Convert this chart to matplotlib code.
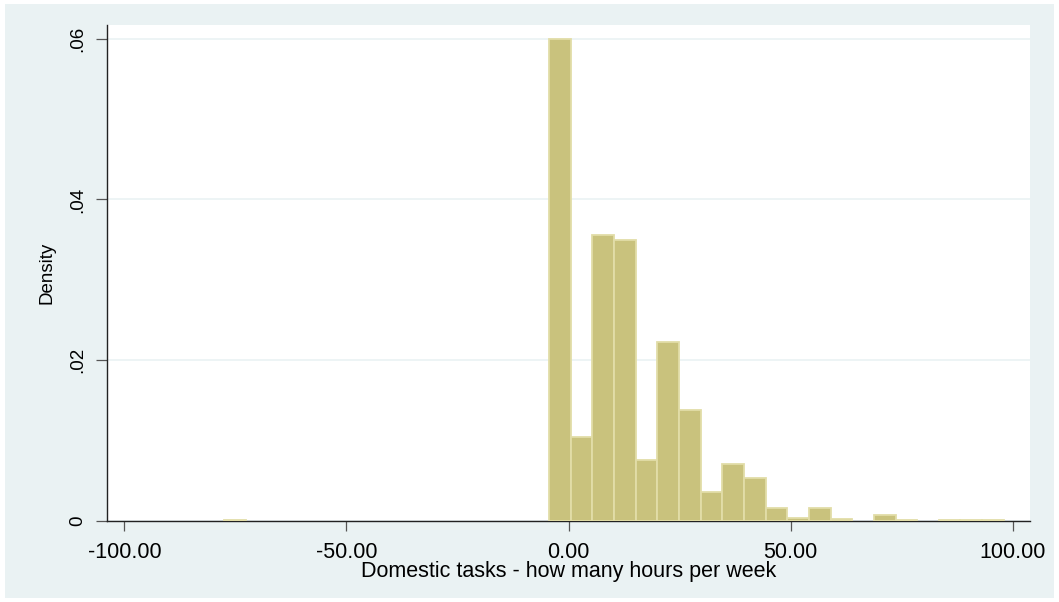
import matplotlib
matplotlib.use('Agg')
import matplotlib.pyplot as plt
from matplotlib.patches import Rectangle

# ---------- DATA ----------
BIN_START = -77.5
BIN_END = 98.0
N_BINS = 36
DENSITY = [
    0.0001, 0, 0, 0, 0, 0, 0, 0, 0, 0, 0, 0, 0, 0, 0,
    0.0599, 0.0105, 0.0356, 0.0350, 0.0076, 0.0223, 0.0138,
    0.00365, 0.00705, 0.0053, 0.0016, 0.0004, 0.0016, 0.0002,
    0, 0.0008, 0.00015, 0, 0.0001, 0.0001, 0.0001,
]
X_TICKS = [-100, -50, 0, 50, 100]
Y_TICKS = [0, 0.02, 0.04, 0.06]
Y_TICK_LABELS = ['0', '.02', '.04', '.06']
X_LABEL = 'Domestic tasks - how many hours per week'
Y_LABEL = 'Density'
# --------------------------

BG = '#EAF2F3'
BAR_FILL = '#C9C27D'
BAR_EDGE = '#E2DDA8'

plt.rcParams['font.family'] = ['Liberation Sans', 'DejaVu Sans']

fig = plt.figure(figsize=(10.59, 6.02), dpi=100, facecolor='white')
fig.patches.append(Rectangle((5 / 1059, 4 / 602), 1 - 10 / 1059, 1 - 8 / 602,
                             transform=fig.transFigure, facecolor=BG,
                             edgecolor='none', zorder=-10))
ax = fig.add_axes([107 / 1059, 1 - 521 / 602, (1030 - 107) / 1059, (521 - 25) / 602])
ax.set_facecolor('white')

width = (BIN_END - BIN_START) / N_BINS
lefts = [BIN_START + i * width for i in range(N_BINS)]
xs = [l for l, d in zip(lefts, DENSITY) if d > 0]
hs = [d for d in DENSITY if d > 0]
ax.bar(xs, hs, width=width, align='edge', color=BAR_FILL,
       edgecolor=BAR_EDGE, linewidth=1.3, zorder=3)

ax.set_xlim(-103.9, 103.9)
ax.set_ylim(0, 0.0617)

ax.set_yticks(Y_TICKS)
ax.set_yticklabels(Y_TICK_LABELS, rotation=90, va='center', fontsize=13.5)
ax.set_xticks(X_TICKS)
ax.set_xticklabels([f'{v:.2f}' for v in X_TICKS], fontsize=15.5)
ax.tick_params(axis='y', length=8, width=0.9, pad=7, color='#555555')
ax.tick_params(axis='x', length=7, width=0.9, pad=8, color='#555555')

ax.grid(axis='y', color=BG, linewidth=1.2, zorder=0)
ax.set_axisbelow(True)
for side in ['top', 'right']:
    ax.spines[side].set_visible(False)
for side in ['left', 'bottom']:
    ax.spines[side].set_linewidth(1.0)
    ax.spines[side].set_color('#222222')

ax.set_xlabel(X_LABEL, fontsize=15.5, labelpad=-1)
ax.set_ylabel(Y_LABEL, fontsize=13.5, labelpad=10)

fig.savefig('out.png', dpi=100, facecolor=fig.get_facecolor())
